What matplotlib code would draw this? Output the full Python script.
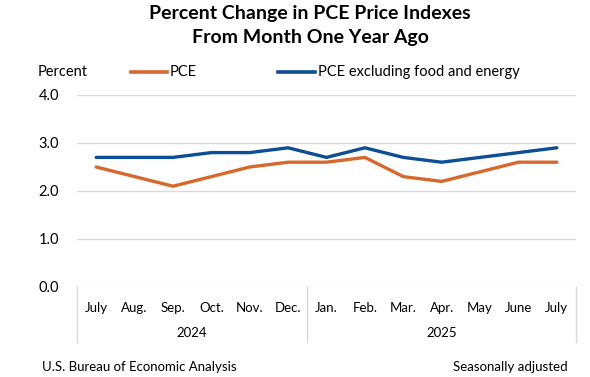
import matplotlib
matplotlib.use("Agg")
import matplotlib.pyplot as plt

months = ["July", "Aug.", "Sep.", "Oct.", "Nov.", "Dec.", "Jan.", "Feb.", "Mar.", "Apr.", "May", "June", "July"]
years = ["2024", "2025"]
pce = [2.5, 2.3, 2.1, 2.3, 2.5, 2.6, 2.6, 2.7, 2.3, 2.2, 2.4, 2.6, 2.6]
core = [2.7, 2.7, 2.7, 2.8, 2.8, 2.9, 2.7, 2.9, 2.7, 2.6, 2.7, 2.8, 2.9]
yticks = [0.0, 1.0, 2.0, 3.0, 4.0]

ORANGE = "#D8682A"
BLUE = "#0D4E96"
GRID = "#D9D9D9"

plt.rcParams['font.family'] = ['Lato', 'DejaVu Sans']
W, H = 590, 377
fig = plt.figure(figsize=(W / 100, H / 100), dpi=100)
ax = fig.add_axes([77 / W, 1 - 287 / H, (576 - 77) / W, (287 - 95) / H])

x = list(range(len(months)))
ax.plot(x, pce, color=ORANGE, lw=2.4, solid_capstyle='round', zorder=3)
ax.plot(x, core, color=BLUE, lw=2.4, solid_capstyle='round', zorder=3)

ax.set_xlim(-0.5, len(months) - 0.5)
ax.set_ylim(0, 4)
ax.set_yticks(yticks)
ax.set_yticklabels([f"{v:.1f}" for v in yticks], fontsize=10.5)
ax.tick_params(axis='y', length=0, pad=13)
for v in yticks:
    ax.axhline(v, color=GRID, lw=1, zorder=1)
for s in ax.spines.values():
    s.set_visible(False)

ax.set_xticks(x)
ax.set_xticklabels(months, fontsize=9.5)
ax.tick_params(axis='x', length=0, pad=11)

# category box separators
for xv in [-0.5, 5.5, len(months) - 0.5]:
    ax.axvline(xv, ymin=-0.286, ymax=0, color=GRID, lw=1, clip_on=False)
ax.text(2.5, -0.24, years[0], transform=ax.get_xaxis_transform(), ha='center', va='center', fontsize=9.5)
ax.text(9.0, -0.24, years[1], transform=ax.get_xaxis_transform(), ha='center', va='center', fontsize=9.5)

fig.text(310 / W, 1 - 19 / H, "Percent Change in PCE Price Indexes", ha='center', va='baseline', fontsize=14, fontweight='bold')
fig.text(310 / W, 1 - 43 / H, "From Month One Year Ago", ha='center', va='baseline', fontsize=14, fontweight='bold')

fig.text(38 / W, 1 - 72 / H, "Percent", ha='left', va='center', fontsize=10.5)
fig.add_artist(plt.Line2D([131 / W, 167 / W], [1 - 72 / H, 1 - 72 / H], color=ORANGE, lw=2.6))
fig.text(170 / W, 1 - 72 / H, "PCE", ha='left', va='center', fontsize=10.5)
fig.add_artist(plt.Line2D([278 / W, 315 / W], [1 - 72 / H, 1 - 72 / H], color=BLUE, lw=2.6))
fig.text(318 / W, 1 - 72 / H, "PCE excluding food and energy", ha='left', va='center', fontsize=10.5)

fig.text(42 / W, 1 - 367 / H, "U.S. Bureau of Economic Analysis", ha='left', va='center', fontsize=9.5)
fig.text(568 / W, 1 - 367 / H, "Seasonally adjusted", ha='right', va='center', fontsize=9.5)

fig.savefig("out.png", dpi=100, facecolor='white')
